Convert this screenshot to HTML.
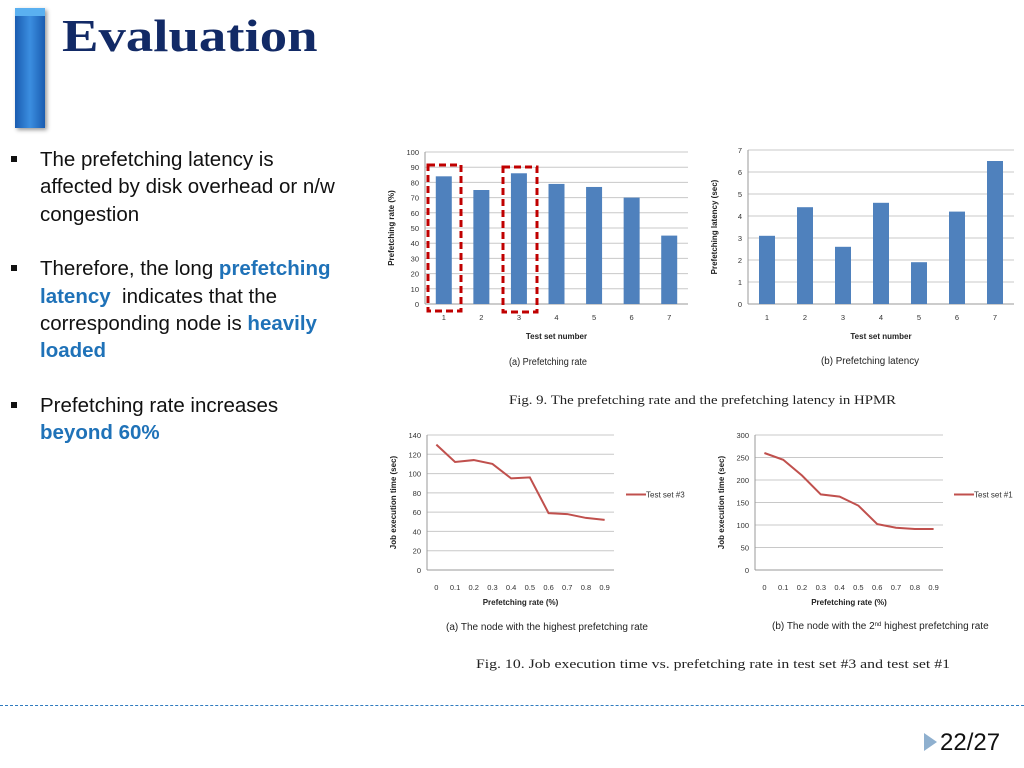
<!DOCTYPE html>
<html><head><meta charset="utf-8">
<style>
body{margin:0;width:1024px;height:768px;background:#fff;overflow:hidden;position:relative;font-family:"Liberation Sans",sans-serif}
.ln{position:absolute;left:40px;font-size:20.5px;color:#111;white-space:nowrap;line-height:22px}
.b{color:#1f72b8;font-weight:bold}
.bul{position:absolute;left:11px;width:6px;height:6px;background:#111}
</style></head><body>
<div style="position:absolute;left:15px;top:8px;width:30px;height:120px;background:linear-gradient(90deg,#1a5cb0,#3b8ee0 50%,#1a5cb0);box-shadow:2px 2px 4px #999"></div>
<div style="position:absolute;left:15px;top:8px;width:30px;height:8px;background:#5ab0f0"></div>
<div style="position:absolute;left:62px;top:9px;font-family:'Liberation Serif',serif;font-weight:bold;font-size:46px;color:#122a66;transform:scaleX(1.19);transform-origin:0 0">Evaluation</div>

<div>
<div class="bul" style="top:156px"></div>
<div class="ln" style="top:149px">The prefetching latency is</div>
<div class="ln" style="top:176px">affected by disk overhead or n/w</div>
<div class="ln" style="top:204px">congestion</div>
</div>
<div>
<div class="bul" style="top:265px"></div>
<div class="ln" style="top:258px">Therefore, the long <span class="b">prefetching</span></div>
<div class="ln" style="top:286px"><span class="b">latency</span>&nbsp; indicates that the</div>
<div class="ln" style="top:313px">corresponding node is <span class="b">heavily</span></div>
<div class="ln" style="top:340px"><span class="b">loaded</span></div>
</div>
<div>
<div class="bul" style="top:402px"></div>
<div class="ln" style="top:395px">Prefetching rate increases</div>
<div class="ln" style="top:422px"><span class="b">beyond 60%</span></div>
</div>

<svg id="fig" width="1024" height="768" style="position:absolute;left:0;top:0" font-family="Liberation Sans, sans-serif"></svg>

<div style="position:absolute;left:0;top:705px;width:1024px;border-top:1.5px dashed #2f7bbf"></div>
<div style="position:absolute;left:924px;top:733px;width:0;height:0;border-left:13px solid #8fb0cf;border-top:9px solid transparent;border-bottom:9px solid transparent"></div>
<div style="position:absolute;left:940px;top:729px;font-size:24px;color:#111">22/27</div>

<script>
const barCats=["1","2","3","4","5","6","7"];
const rateVals=[84,75,86,79,77,70,45];
const rateTicks=[0,10,20,30,40,50,60,70,80,90,100];
const latVals=[3.1,4.4,2.6,4.6,1.9,4.2,6.5];
const latTicks=[0,1,2,3,4,5,6,7];
const lineCats=["0","0.1","0.2","0.3","0.4","0.5","0.6","0.7","0.8","0.9"];
const set3Vals=[130,112,114,110,95,96,59,58,54,52];
const set3Ticks=[0,20,40,60,80,100,120,140];
const set1Vals=[260,245,210,168,163,143,102,94,91,91];
const set1Ticks=[0,50,100,150,200,250,300];

const svg=document.getElementById('fig');
const NS='http://www.w3.org/2000/svg';
function mk(tag,at,txt){const e=document.createElementNS(NS,tag);for(const k in at)e.setAttribute(k,at[k]);if(txt!==undefined)e.textContent=txt;svg.appendChild(e);return e;}

function axes(x0,x1,y0,y1,ticks,ytitle,xtitle,name){
  const max=ticks[ticks.length-1];
  const ys=v=>y0-(v/max)*(y0-y1);
  ticks.forEach(t=>{
    const gl=mk('line',{x1:x0,x2:x1,y1:ys(t),y2:ys(t),stroke:t===0?'#999':'#c8c8c8','stroke-width':1});
    
    
    const tl=mk('text',{x:x0-6,y:ys(t)+3,'font-size':7.5,'text-anchor':'end',fill:'#333'},t);
    
    
  });
  const ax=mk('line',{x1:x0,x2:x0,y1:y0,y2:y1,stroke:'#999'});
  
  
  const cy=(y0+y1)/2;
  const yt=mk('text',{x:x0-31,y:cy,'font-size':8,'font-weight':'bold','text-anchor':'middle',transform:`rotate(-90 ${x0-31} ${cy})`,fill:'#222'},ytitle);
  
  
  const xt=mk('text',{x:(x0+x1)/2,y:y0+35,'font-size':8,'font-weight':'bold','text-anchor':'middle',fill:'#222'},xtitle);
  
  
  return ys;
}

function barChart(x0,x1,y0,y1,cats,vals,ticks,ytitle,name){
  const ys=axes(x0,x1,y0,y1,ticks,ytitle,'Test set number',name);
  const step=(x1-x0)/cats.length;
  cats.forEach((c,i)=>{
    const cx=x0+step*(i+0.5);
    const r=mk('rect',{x:cx-8,y:ys(vals[i]),width:16,height:y0-ys(vals[i]),fill:'#4f81bd'});
    
    
    const t=mk('text',{x:cx,y:y0+16,'font-size':7.5,'text-anchor':'middle',fill:'#333'},c);
    
    
  });
}

function lineChart(x0,x1,y0,y1,cats,vals,ticks,name,legend,lx){
  const ys=axes(x0,x1,y0,y1,ticks,'Job execution time (sec)','Prefetching rate (%)',name);
  const step=(x1-x0)/cats.length;
  const xs=i=>x0+step*(i+0.5);
  let d='';
  cats.forEach((c,i)=>{
    d+=(i?'L':'M')+xs(i)+' '+ys(vals[i]);
    const t=mk('text',{x:xs(i),y:y0+20,'font-size':7.5,'text-anchor':'middle',fill:'#333'},c);
    
    
  });
  const p=mk('path',{d:d,fill:'none',stroke:'#c0504d','stroke-width':2});
  
  
  const ly=(y0+y1)/2-8;
  const l=mk('line',{x1:lx,x2:lx+20,y1:ly,y2:ly,stroke:'#c0504d','stroke-width':2});
  
  
  const lt=mk('text',{x:lx+20,y:ly+3,'font-size':8,fill:'#333'},legend);
  
  
}

barChart(425,688,304,152,barCats,rateVals,rateTicks,'Prefetching rate (%)','rate-chart');
barChart(748,1014,304,150,barCats,latVals,latTicks,'Prefetching latency (sec)','latency-chart');
lineChart(427,614,570,435,lineCats,set3Vals,set3Ticks,'exec-set3-chart','Test set #3',626);
lineChart(755,943,570,435,lineCats,set1Vals,set1Ticks,'exec-set1-chart','Test set #1',954);

[[428,165,33,146],[503,167,34,145]].forEach((b,i)=>{
  const r=mk('rect',{x:b[0],y:b[1],width:b[2],height:b[3],fill:'none',stroke:'#c00000','stroke-width':3,'stroke-dasharray':'7 4'});
  
  
});

const caps=[[509,365,'(a) Prefetching rate','Liberation Sans',10,78],[821,364,'(b) Prefetching latency','Liberation Sans',10,98],
[509,404,'Fig. 9.   The prefetching rate and the prefetching latency in HPMR','Liberation Serif',13,387],
[446,630,'(a) The node with the highest prefetching rate','Liberation Sans',10,202],
[476,668,'Fig. 10.   Job execution time vs. prefetching rate in test set #3 and test set #1','Liberation Serif',13,474]];
caps.forEach((c,i)=>{
  const t=mk('text',{x:c[0],y:c[1],'font-size':c[4],'font-family':c[3]+', serif',textLength:c[5],lengthAdjust:'spacingAndGlyphs',fill:'#222'},c[2]);
  
  
});
const cb=mk('text',{x:772,y:629,'font-size':10,fill:'#222'});


cb.innerHTML='(b) The node with the 2<tspan dy="-3" font-size="6">nd</tspan><tspan dy="3"> highest prefetching rate</tspan>';
</script>
</body></html>
